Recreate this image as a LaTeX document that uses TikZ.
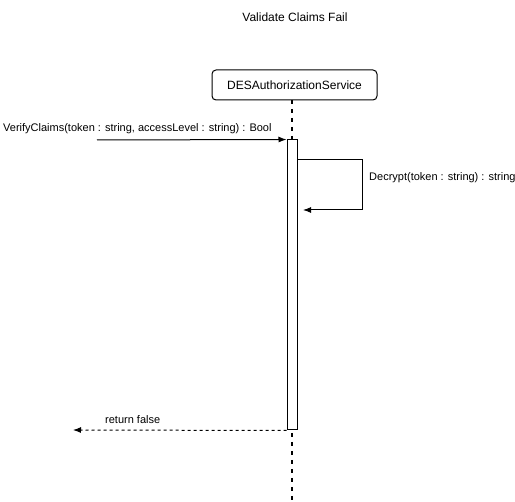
\documentclass[tikz,border=0pt]{standalone}
\usepackage{fontspec}
\setmainfont{Liberation Sans}
\usetikzlibrary{arrows.meta}
\begin{document}
\begin{tikzpicture}[x=1pt,y=-1pt,
  lbl/.style={font=\fontsize{11}{13}\selectfont, inner sep=0pt},
  msg/.style={line width=1pt,-{Latex[length=8pt,width=6pt]}},
  ret/.style={msg, dash pattern=on 3pt off 3pt},
  life/.style={line width=2pt, dash pattern=on 4.5pt off 4.5pt}]
\useasboundingbox (0,0) rectangle (515,502);
\node[font=\fontsize{12}{14}\selectfont] (title) at (295,17) {Validate Claims Fail};
\node[draw, rounded corners=4pt, line width=1pt, minimum width=165pt, minimum height=30pt,
      font=\fontsize{12}{14}\selectfont] (head) at (294.5,85) {DESAuthorizationService};
\coordinate (lltop) at (292,100);
\coordinate (llbot) at (292,502);
\draw[life] (lltop) -- (llbot);
\node[draw, fill=white, line width=1pt, minimum width=10pt, minimum height=290pt, inner sep=0pt] (act) at (292,285) {};
% incoming call
\coordinate (caller) at (97,140);
\draw[msg] (caller) -- (act.north west);
\node[lbl, anchor=west] (callLbl) at (3,129) {VerifyClaims(token : string, accessLevel : string) : Bool};
% self call
\coordinate (selfout) at (297,160);
\coordinate (selfc1) at (362,160);
\coordinate (selfc2) at (362,210);
\coordinate (selfin) at (303,210);
\draw[msg] (selfout) -- (selfc1) -- (selfc2) -- (selfin);
\node[lbl, anchor=west] (selfLbl) at (369,178) {Decrypt(token : string) : string};
% return
\coordinate (retend) at (73,430);
\draw[ret] (act.south west) -- (retend);
\node[lbl, anchor=west] (retLbl) at (105,420) {return false};
\end{tikzpicture}
\end{document}
